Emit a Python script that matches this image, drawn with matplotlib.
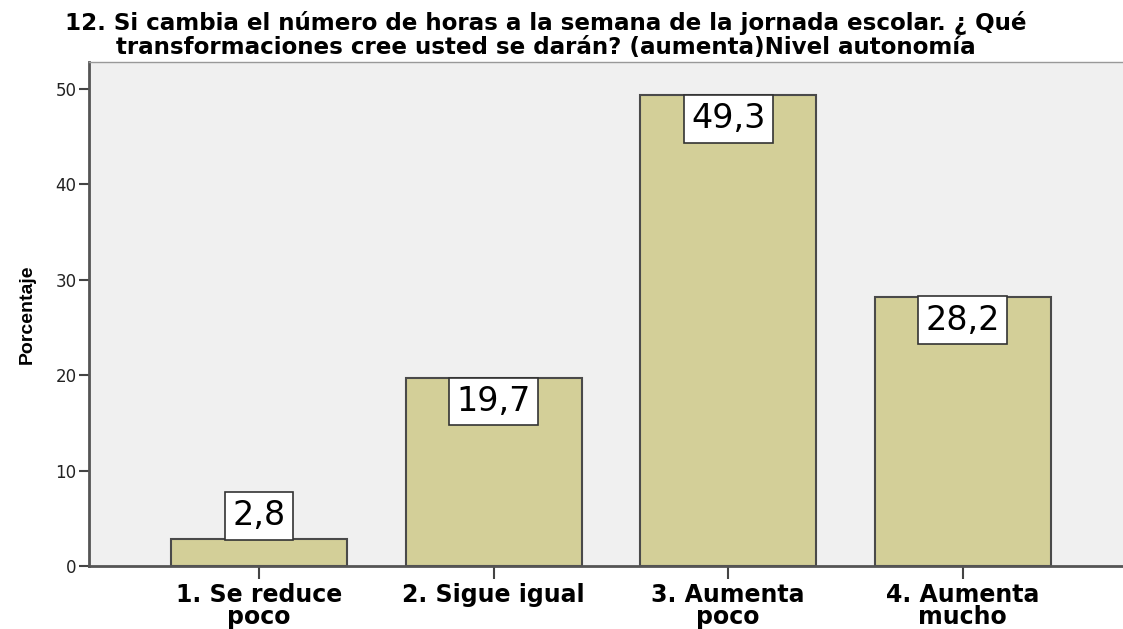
import matplotlib
matplotlib.use("Agg")
import matplotlib.pyplot as plt

categories = ["1. Se reduce\npoco", "2. Sigue igual", "3. Aumenta\npoco", "4. Aumenta\nmucho"]
percent = [2.8, 19.7, 49.3, 28.2]
value_labels = ["2,8", "19,7", "49,3", "28,2"]
y_ticks = [0, 10, 20, 30, 40, 50]

BAR_COLOR = "#d3cf98"
EDGE = "#4a4a4a"

# the reference is a horizontally stretched SPSS export, so a wide face fits better
plt.rcParams["font.family"] = ["DejaVu Sans"]

fig = plt.figure(figsize=(11.23, 6.29), dpi=100)
ax = fig.add_axes([0.0793, 0.1002, 0.9207, 0.8012])
ax.set_facecolor("#f0f0f0")

x = list(range(len(categories)))
ax.bar(x, percent, width=0.75, color=BAR_COLOR, edgecolor=EDGE, linewidth=1.5, zorder=2)

box = dict(boxstyle="square,pad=0.22", fc="white", ec="#333333", lw=1.2)
for xi, v, lab in zip(x, percent, value_labels):
    if v > 6:
        ax.annotate(lab, (xi, v), xytext=(0, -5), textcoords="offset points",
                    ha="center", va="top", fontsize=24, zorder=3, bbox=box)
    else:
        ax.annotate(lab, (xi, v), xytext=(0, 5), textcoords="offset points",
                    ha="center", va="bottom", fontsize=24, zorder=3, bbox=box)

ax.set_xlim(-0.725, 3.684)
ax.set_ylim(0, 52.8)
ax.set_yticks(y_ticks)
ax.set_yticklabels([str(t) for t in y_ticks], fontsize=12, color="#222222")
ax.set_xticks(x)
ax.set_xticklabels(categories, fontsize=17, fontweight="bold", linespacing=0.92)
ax.tick_params(axis="y", length=7, width=1.5, color="#444444", pad=2)
ax.tick_params(axis="x", length=9, width=1.5, color="#444444", pad=3)

for side in ["left", "bottom"]:
    ax.spines[side].set_color("#555555")
    ax.spines[side].set_linewidth(2)
ax.spines["top"].set_color("#999999")
ax.spines["top"].set_linewidth(1)
ax.spines["right"].set_visible(False)

ax.set_ylabel("Porcentaje", fontsize=14, fontweight="bold",
              family=["Liberation Sans", "DejaVu Sans"], labelpad=14)

fig.text(0.486, 0.983, "12. Si cambia el número de horas a la semana de la jornada escolar. ¿ Qué\n"
         "transformaciones cree usted se darán? (aumenta)Nivel autonomía",
         ha="center", va="top", fontsize=16.6, fontweight="bold", linespacing=1.05)

fig.savefig("out.png", dpi=100)
